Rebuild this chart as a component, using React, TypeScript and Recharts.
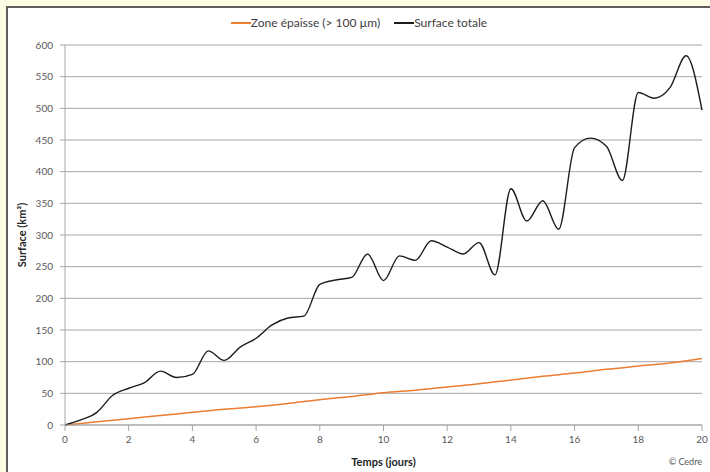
import React from 'react';
import { LineChart, Line, XAxis, YAxis, CartesianGrid } from 'recharts';

// Surface totale, relevés tous les demi-jours
const totalDays = [0, 0.5, 1, 1.5, 2, 2.5, 3, 3.5, 4, 4.5, 5, 5.5, 6, 6.5, 7, 7.5, 8, 8.5, 9, 9.5, 10, 10.5, 11, 11.5, 12, 12.5, 13, 13.5, 14, 14.5, 15, 15.5, 16, 16.5, 17, 17.5, 18, 18.5, 19, 19.5, 20];
const totalValues = [0, 8, 20, 47, 58, 67, 85, 75, 80, 117, 102, 123, 137, 158, 169, 172, 222, 229, 233, 270, 228, 267, 260, 291, 281, 270, 288, 237, 373, 322, 354, 309, 438, 453, 440, 386, 525, 516, 533, 583, 497];

// Zone épaisse (> 100 µm), relevés journaliers
const thickDays = [0, 1, 2, 3, 4, 5, 6, 7, 8, 9, 10, 11, 12, 13, 14, 15, 16, 17, 18, 19, 20];
const thickValues = [0, 5, 10, 15, 20, 25, 29, 34, 40, 45, 51, 55, 60, 65, 71, 77, 82, 88, 93, 98, 105];

const xTicks = [0, 2, 4, 6, 8, 10, 12, 14, 16, 18, 20];
const yTicks = [0, 50, 100, 150, 200, 250, 300, 350, 400, 450, 500, 550, 600];

const seriesNames = { thick: 'Zone épaisse (> 100 µm)', total: 'Surface totale' };

const totalData = totalDays.map((d, i) => ({ day: d, value: totalValues[i] }));
const thickData = thickDays.map((d, i) => ({ day: d, value: thickValues[i] }));

const FONT = 'Lato, "Open Sans", sans-serif';
const ORANGE = '#ED7D31';
const BLACK = '#1c1c1c';
const AXIS = '#a6a6a6';
const TEXT = '#595959';

const LegendItem = ({ color, label }: { color: string; label: string }) => (
  <div style={{ display: 'flex', alignItems: 'center' }}>
    <div style={{ width: 20, height: 2, background: color }} />
    <span style={{ fontSize: 12, color: '#404040' }}>{label}</span>
  </div>
);

export default function App() {
  return (
    <div
      style={{
        position: 'fixed',
        left: 0,
        top: 0,
        width: 710,
        height: 472,
        background: '#fffce6',
        overflow: 'hidden',
        fontFamily: FONT,
      }}
    >
      <div
        style={{
          position: 'absolute',
          left: 6,
          top: 6,
          width: 710,
          height: 472,
          background: '#ffffff',
          borderLeft: '2px solid #5e5e5e',
          borderTop: '2px solid #5e5e5e',
        }}
      >
        <div
          style={{
            position: 'absolute',
            top: 7,
            left: 0,
            width: 702,
            display: 'flex',
            justifyContent: 'center',
            gap: 14,
          }}
        >
          <LegendItem color={ORANGE} label={seriesNames.thick} />
          <LegendItem color={BLACK} label={seriesNames.total} />
        </div>

        <LineChart width={702} height={464} margin={{ top: 37, right: 8, left: 0, bottom: 0 }}>
          <CartesianGrid horizontal vertical={false} stroke={AXIS} />
          <XAxis
            type="number"
            dataKey="day"
            domain={[0, 20]}
            ticks={xTicks}
            interval={0}
            height={47}
            stroke={AXIS}
            tickSize={6}
            tickMargin={5}
            tick={{ fill: TEXT, fontSize: 10, fontFamily: FONT }}
            label={{
              value: 'Temps (jours)',
              position: 'insideBottom',
              offset: 6,
              style: { fontSize: 11, fontWeight: 700, fill: '#262626', fontFamily: FONT },
            }}
          />
          <YAxis
            type="number"
            domain={[0, 600]}
            ticks={yTicks}
            interval={0}
            width={57}
            stroke={AXIS}
            tickSize={5}
            tickMargin={7}
            tick={{ fill: TEXT, fontSize: 10, fontFamily: FONT }}
            label={{
              value: 'Surface (km²)',
              angle: -90,
              position: 'insideLeft',
              offset: 14,
              style: { fontSize: 11, fontWeight: 700, fill: '#262626', fontFamily: FONT, textAnchor: 'middle' },
            }}
          />
          <Line
            data={thickData}
            dataKey="value"
            name={seriesNames.thick}
            type="monotone"
            stroke={ORANGE}
            strokeWidth={1.5}
            dot={false}
            isAnimationActive={false}
          />
          <Line
            data={totalData}
            dataKey="value"
            name={seriesNames.total}
            type="monotone"
            stroke={BLACK}
            strokeWidth={1.4}
            dot={false}
            isAnimationActive={false}
          />
        </LineChart>

        <div
          style={{
            position: 'absolute',
            left: 640,
            top: 448,
            width: 54,
            textAlign: 'right',
            fontSize: 9,
            color: TEXT,
          }}
        >
          © Cedre
        </div>
      </div>
    </div>
  );
}
